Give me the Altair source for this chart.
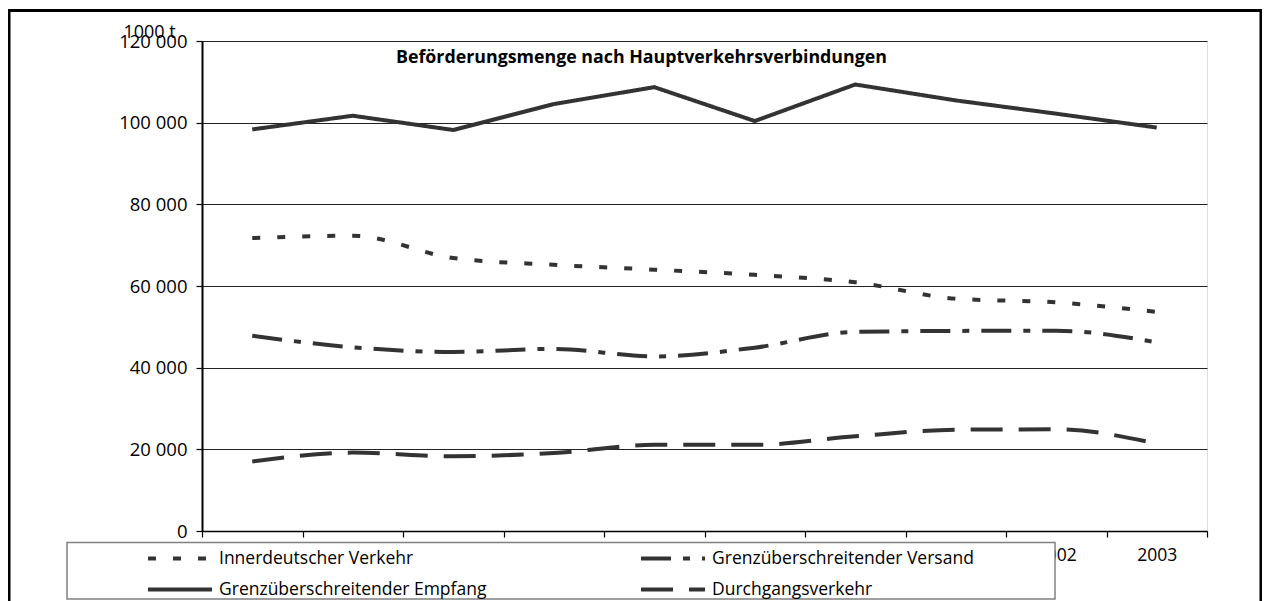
import altair as alt
import pandas as pd

FONT = "Open Sans"

years = ["1994", "1995", "1996", "1997", "1998", "1999", "2000", "2001", "2002", "2003"]
innerdeutsch = [71750, 72300, 66850, 65200, 64000, 62750, 60900, 56900, 56000, 53650]
versand = [47800, 45000, 43850, 44600, 42750, 44900, 48750, 49000, 49050, 46200]
empfang = [98350, 101700, 98200, 104550, 108700, 100400, 109350, 105450, 102200, 98800]
durchgang = [17000, 19200, 18300, 19100, 21100, 21100, 23200, 24800, 24900, 21400]

# legend fills column by column: first column, then second column
series_names = [
    "Innerdeutscher Verkehr",
    "Grenzüberschreitender Empfang",
    "Grenzüberschreitender Versand",
    "Durchgangsverkehr",
]
series_values = [innerdeutsch, empfang, versand, durchgang]
dash_patterns = [[8, 17], [1, 0], [30, 12, 7, 12], [32, 16]]
y_ticks = [0, 20000, 40000, 60000, 80000, 100000, 120000]

title_text = "Beförderungsmenge nach Hauptverkehrsverbindungen"
unit_text = "1000 t"

rows = []
for name, vals in zip(series_names, series_values):
    for yr, v in zip(years, vals):
        rows.append({"Jahr": yr, "Wert": v, "Reihe": name})
df = pd.DataFrame(rows)

x_enc = alt.X(
    "Jahr:O",
    sort=years,
    bandPosition=0.5,
    scale=alt.Scale(type="band", paddingInner=0, paddingOuter=0),
    axis=alt.Axis(
        title=None, tickBand="extent", grid=False, domainColor="#000",
        domainWidth=1.5, tickColor="#000", tickSize=6, tickWidth=1.2,
        labelAngle=0, labelPadding=9, labelFontSize=17.5, labelFont=FONT,
        labelColor="#000", zindex=0,
    ),
)
y_enc = alt.Y(
    "Wert:Q",
    scale=alt.Scale(domain=[0, 120000], nice=False, zero=True),
    axis=alt.Axis(
        values=y_ticks, grid=True, gridColor="#222", gridWidth=1,
        domainColor="#000", domainWidth=2, tickColor="#000", tickSize=6,
        tickWidth=1.2, labelFontSize=18.5, labelFont=FONT, labelColor="#000",
        labelPadding=9,
        labelExpr="replace(format(datum.value, ','), ',', ' ')",
        title=unit_text, titleAngle=0, titleX=-53, titleY=-9,
        titleAlign="center", titleBaseline="middle", titleFontWeight="normal",
        titleFontSize=18, titleFont=FONT, titleColor="#000", zindex=0,
    ),
)
dash_enc = alt.StrokeDash(
    "Reihe:N",
    scale=alt.Scale(domain=series_names, range=dash_patterns),
    legend=alt.Legend(
        orient="none", legendX=-56, legendY=508.5, columns=2, columnPadding=152,
        rowPadding=13, clipHeight=18, title=None, symbolType="stroke",
        symbolSize=4096, symbolStrokeWidth=4, symbolStrokeColor="#333",
        labelFontSize=17.5, labelFont=FONT, labelColor="#000", labelOffset=5,
        labelLimit=400, padding=0,
    ),
)

solid = alt.Chart(df).transform_filter(
    alt.datum.Reihe == "Grenzüberschreitender Empfang"
).mark_line(color="#333", strokeWidth=4, interpolate="linear").encode(
    x=x_enc, y=y_enc, strokeDash=dash_enc
)
dashed = alt.Chart(df).transform_filter(
    alt.datum.Reihe != "Grenzüberschreitender Empfang"
).mark_line(color="#333", strokeWidth=4, interpolate="monotone").encode(
    x=x_enc, y=y_enc, strokeDash=dash_enc
)

one = alt.Data(values=[{"k": 1}])
legend_box = alt.Chart(one).mark_rect(
    fill="white", stroke="#808080", strokeWidth=1.5
).encode(
    x=alt.value(-135), x2=alt.value(853), y=alt.value(501.6), y2=alt.value(558)
)
outer_frame = alt.Chart(one).mark_rect(
    fill=None, stroke="#000", strokeWidth=3
).encode(
    x=alt.value(-193), x2=alt.value(1059), y=alt.value(-30.4), y2=alt.value(600)
)
title_mark = alt.Chart(alt.Data(values=[{"t": title_text}])).mark_text(
    align="left", baseline="alphabetic", font=FONT, fontSize=17.8,
    fontWeight="bold", color="#000"
).encode(text="t:N", x=alt.value(194), y=alt.value(21.6))

chart = alt.layer(dashed, solid, legend_box, outer_frame, title_mark).properties(
    width=1005, height=490,
    autosize=alt.AutoSizeParams(type="none"),
    padding={"left": 194, "top": 33, "right": 55, "bottom": 70},
).configure_view(stroke="#404040", strokeWidth=2).configure(background="white")

chart.save("out.html", embed_options={"renderer": "svg", "actions": False})
